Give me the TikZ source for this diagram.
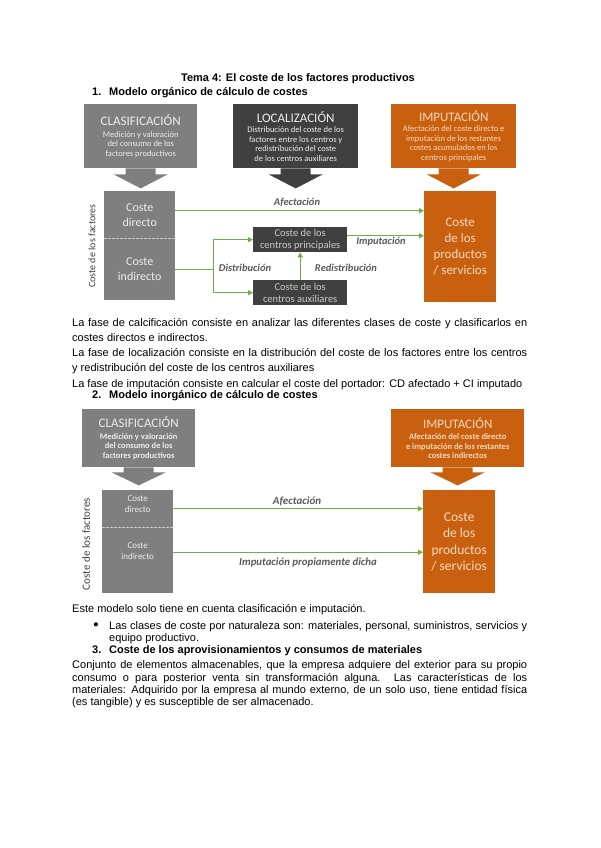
\documentclass[tikz,border=0pt]{standalone}
\usepackage{fontspec}
\setmainfont{Liberation Sans}
\newfontfamily\calib{Carlito}
\usetikzlibrary{arrows.meta}
\definecolor{greybox}{HTML}{7F7F7F}
\definecolor{darkbox}{HTML}{404040}
\definecolor{orangebox}{HTML}{C9600F}
\definecolor{boxtext}{HTML}{EDEDED}
\definecolor{peachtext}{HTML}{FAD9BF}
\definecolor{flowcol}{HTML}{70AD47}
\definecolor{labelcol}{HTML}{5A5A5A}
\newcommand{\justline}[2][455pt]{\makebox[#1][s]{#2}}
\tikzset{
  phasebox/.style={anchor=north west, inner sep=0pt, align=center, text=boxtext,
    font=\calib\fontsize{8.5}{9.5}\selectfont},
  costbox/.style={anchor=north west, inner sep=0pt, align=center, fill=greybox,
    text=boxtext, font=\calib\fontsize{12}{15}\selectfont},
  centrebox/.style={anchor=north west, inner sep=0pt, align=center, fill=darkbox,
    text=boxtext!85!black, minimum width=94pt, minimum height=25pt,
    font=\calib\fontsize{10.5}{12}\selectfont},
  productbox/.style={anchor=north west, inner sep=0pt, align=center, fill=orangebox,
    text=peachtext, font=\calib\fontsize{13}{16}\selectfont},
  flow/.style={draw=flowcol, line width=1.3pt, -{Triangle[length=5pt, width=5pt]}},
  flowlabel/.style={text=labelcol, inner sep=0pt,
    font=\calib\bfseries\itshape\fontsize{10.5}{12}\selectfont},
  sidelabel/.style={rotate=90, text=darkbox, inner sep=0pt,
    font=\calib\fontsize{10}{12}\selectfont},
  bodytext/.style={anchor=north west, inner sep=0pt, align=left,
    font=\fontsize{11}{15.3}\selectfont},
  headtext/.style={anchor=west, inner sep=0pt, font=\bfseries\fontsize{11}{13}\selectfont}
}

\begin{document}
\begin{tikzpicture}[x=1pt, y=-1pt]

  % Page.
  \fill[white] (0,0) rectangle (600,848);
  \useasboundingbox (0,0) rectangle (600,848);

  % Title and first heading.
  \node[headtext, anchor=center] (title) at (298,79)
    {Tema 4: El coste de los factores productivos};
  \node[headtext] (head1) at (92,93)
    {\makebox[17pt][l]{1.}Modelo orgánico de cálculo de costes};

  % Model 1 -- the three phases.
  \node[phasebox, fill=greybox, minimum width=113pt, minimum height=64pt] (clas) at (84,104)
    {{\fontsize{13}{15}\selectfont CLASIFICACIÓN}\\[2pt]
     Medición y valoración\\ del consumo de los\\ factores productivos};
  \node[phasebox, fill=darkbox, minimum width=125pt, minimum height=64pt] (loc) at (233,104)
    {{\fontsize{13}{15}\selectfont LOCALIZACIÓN}\\[1pt]
     Distribución del coste de los\\ factores entre los centros y\\
     redistribución del coste\\ de los centros auxiliares};
  \node[phasebox, fill=orangebox, text=peachtext, minimum width=125pt, minimum height=64pt]
    (imp) at (391,104)
    {{\fontsize{13}{15}\selectfont IMPUTACIÓN}\\[1pt]
     Afectación del coste directo e\\ imputación de los restantes\\
     costes acumulados en los\\ centros principales};
  \foreach \b/\col in {clas/greybox, loc/darkbox, imp/orangebox} {
    \fill[\col] ([xshift=-15pt]\b.south) -- ++(0,6) -- ++(-12,0) -- ++(27,14)
      -- ++(27,-14) -- ++(-12,0) -- ++(0,-6) -- cycle;
  }

  % Model 1 -- costs.
  \node[costbox, minimum width=71pt, minimum height=47pt] (dir) at (104,191) {Coste\\directo};
  \node[costbox, minimum width=71pt, minimum height=62pt] (ind) at (104,238) {Coste\\indirecto};
  \draw[white!80!black, line width=1pt, dash pattern=on 2.5pt off 1.5pt]
    (dir.south west) -- (dir.south east);
  \node[sidelabel] (fact) at (92,246) {Coste de los factores};
  \node[centrebox] (prin) at (253,227) {Coste de los\\centros principales};
  \node[centrebox] (aux) at (253,280) {Coste de los\\centros auxiliares};
  \node[productbox, minimum width=72pt, minimum height=111pt] (prod) at (424,191)
    {Coste\\de los\\productos\\/ servicios};

  % Model 1 -- flows.
  \draw[flow] (dir.east) ++(0,-4) coordinate (afec) -- (afec -| prod.west);
  \path (ind.east) ++(38,0) coordinate (split);
  \draw[flow] (ind.east) -- (split) |- (prin.west);
  \draw[flow] (split) |- (aux.west);
  \draw[flow] (aux.north) -- (prin.south);
  \draw[flow] (prin.east) ++(0,-4) coordinate (impu) -- (impu -| prod.west);
  \node[flowlabel] (lafec) at (297,202) {Afectación};
  \node[flowlabel] (ldist) at (245,268) {Distribución};
  \node[flowlabel] (lredist) at (346,268) {Redistribución};
  \node[flowlabel] (limpu) at (381,242) {Imputación};

  % Text between the two models.
  \node[bodytext] (fases) at (72,315.1)
    {\strut\justline{La fase de calcificación consiste en analizar las diferentes clases de coste y clasificarlos en}\\
     costes directos e indirectos.\\
     \justline{La fase de localización consiste en la distribución del coste de los factores entre los centros}\\
     y redistribución del coste de los centros auxiliares\\
     La fase de imputación consiste en calcular el coste del portador: CD afectado + CI imputado};
  \node[headtext] (head2) at (92,396)
    {\makebox[17pt][l]{2.}Modelo inorgánico de cálculo de costes};

  % Model 2 -- the two phases.
  \node[phasebox, fill=greybox, minimum width=113pt, minimum height=58pt] (clas2) at (82,409)
    {{\fontsize{13}{15}\selectfont CLASIFICACIÓN}\\[2pt]
     \bfseries Medición y valoración\\ \bfseries del consumo de los\\ \bfseries factores productivos};
  \node[phasebox, fill=orangebox, text=peachtext, minimum width=133pt, minimum height=58pt]
    (imp2) at (391,409)
    {{\fontsize{13}{15}\selectfont IMPUTACIÓN}\\[2pt]
     \bfseries Afectación del coste directo\\ \bfseries e imputación de los restantes\\
     \bfseries costes indirectos};
  \foreach \b/\col in {clas2/greybox, imp2/orangebox} {
    \fill[\col] ([xshift=-15pt]\b.south) -- ++(0,5) -- ++(-12,0) -- ++(27,13)
      -- ++(27,-13) -- ++(-12,0) -- ++(0,-5) -- cycle;
  }

  % Model 2 -- costs.
  \node[costbox, minimum width=71pt, minimum height=37pt, text depth=10pt,
    font=\calib\fontsize{9}{11}\selectfont] (dir2) at (102,490) {Coste\\directo};
  \node[costbox, minimum width=71pt, minimum height=66pt, text depth=18pt,
    font=\calib\fontsize{9}{11}\selectfont] (ind2) at (102,527) {Coste\\indirecto};
  \draw[white!80!black, line width=1pt, dash pattern=on 2.5pt off 1.5pt]
    (dir2.south west) -- (dir2.south east);
  \node[sidelabel, font=\calib\fontsize{11}{12}\selectfont] (fact2) at (86,544)
    {Coste de los factores};
  \node[productbox, minimum width=72pt, minimum height=103pt, font=\calib\fontsize{13.5}{16.5}\selectfont]
    (prod2) at (423,490) {Coste\\de los\\productos\\/ servicios};

  % Model 2 -- flows.
  \draw[flow] (dir2.east) -- (dir2.east -| prod2.west);
  \draw[flow] (ind2.east) ++(0,-8) coordinate (impu2) -- (impu2 -| prod2.west);
  \node[flowlabel, font=\calib\bfseries\itshape\fontsize{11}{12}\selectfont] (lafec2) at (297,501)
    {Afectación};
  \node[flowlabel, font=\calib\bfseries\itshape\fontsize{10.8}{12}\selectfont] (limpu2) at (308,563)
    {Imputación propiamente dicha};

  % Text after the second model.
  \node[headtext, font=\fontsize{11}{13}\selectfont] (note) at (72,610)
    {Este modelo solo tiene en cuenta clasificación e imputación.};
  \node[inner sep=0pt, font=\fontsize{9.5}{10}\selectfont] (dot) at (96,625) {●};
  \node[bodytext, font=\fontsize{11}{12.3}\selectfont] (clases) at (109,620.2)
    {\strut\justline[418pt]{Las clases de coste por naturaleza son: materiales, personal, suministros, servicios y}\\
     equipo productivo.};
  \node[headtext] (head3) at (92,651)
    {\makebox[17pt][l]{3.}Coste de los aprovisionamientos y consumos de materiales};
  \node[bodytext, font=\fontsize{11}{12.2}\selectfont] (mater) at (72,660.2)
    {\strut\justline{Conjunto de elementos almacenables, que la empresa adquiere del exterior para su propio}\\
     \justline{consumo o para posterior venta sin transformación alguna. Las características de los}\\
     \justline{materiales: Adquirido por la empresa al mundo externo, de un solo uso, tiene entidad física}\\
     (es tangible) y es susceptible de ser almacenado.};

\end{tikzpicture}
\end{document}
